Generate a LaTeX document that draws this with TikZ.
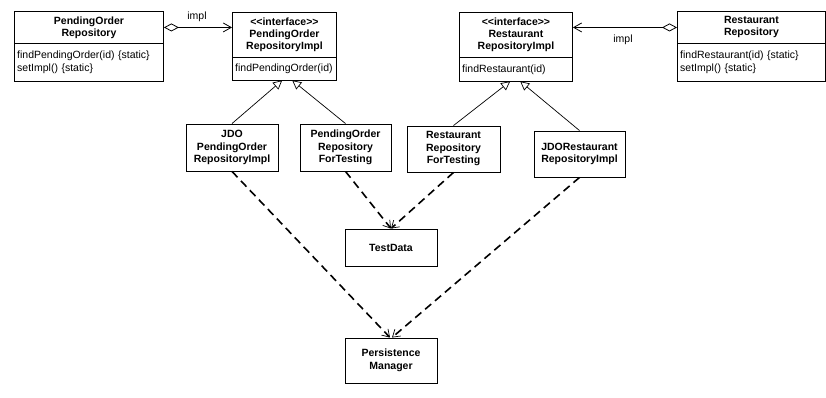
\documentclass[tikz,border=0pt]{standalone}
\usepackage{fontspec}
\setmainfont{Liberation Sans}
\usetikzlibrary{arrows.meta}
\begin{document}
\begin{tikzpicture}[x=1pt,y=-1pt,
  every node/.style={font=\fontsize{10.5}{13}\selectfont, inner sep=0pt},
  ttl/.style={draw, line width=0.9pt, align=center, font=\fontsize{10.5}{12}\selectfont\bfseries, anchor=north west},
  mth/.style={align=left, inner xsep=3pt, anchor=north west},
  side/.style={line width=0.9pt},
  cls/.style={draw, line width=0.9pt, align=center, font=\fontsize{10.5}{12.5}\selectfont\bfseries},
  inh/.style={line width=0.7pt, -{Triangle[open,length=9pt,width=9pt]}},
  dep/.style={line width=1.6pt, dash pattern=on 8pt off 5pt, -{Straight Barb[length=7pt,width=9pt,line width=0.7pt]}},
  agg/.style={line width=0.8pt, {Diamond[open,length=15pt,width=8pt]}-{Straight Barb[length=8pt,width=9pt]}},
]
\useasboundingbox (0,0) rectangle (826,398);
% top class boxes
\node[ttl, minimum width=149pt, minimum height=32pt] (At) at (14,11) {PendingOrder\\Repository};
\node[mth, text width=143pt, minimum height=37pt] (Am) at (At.south west) {findPendingOrder(id) \{static\}\\setImpl() \{static\}};
\node[ttl, minimum width=104pt, minimum height=45pt] (Bt) at (232,12) {{<}{<}interface{>}{>}\\PendingOrder\\RepositoryImpl};
\node[mth, text width=98pt, minimum height=22pt] (Bm) at (Bt.south west) {findPendingOrder(id)};
\node[ttl, minimum width=113pt, minimum height=45pt] (Ct) at (459,12) {{<}{<}interface{>}{>}\\Restaurant\\RepositoryImpl};
\node[mth, text width=107pt, minimum height=23pt] (Cm) at (Ct.south west) {findRestaurant(id)};
\node[ttl, minimum width=148pt, minimum height=32pt] (Dt) at (677,11) {Restaurant\\Repository};
\node[mth, text width=142pt, minimum height=37pt] (Dm) at (Dt.south west) {findRestaurant(id) \{static\}\\setImpl() \{static\}};
\foreach \m in {Am,Bm,Cm,Dm}
  \draw[side] (\m.north west) -- (\m.south west) -- (\m.south east) -- (\m.north east);
% middle boxes
\node[cls, minimum width=92pt, minimum height=47pt] (E) at (232,147.5) {JDO\\PendingOrder\\RepositoryImpl};
\node[cls, minimum width=91pt, minimum height=47pt] (F) at (345.5,147.5) {PendingOrder\\Repository\\ForTesting};
\node[cls, minimum width=93pt, minimum height=46pt] (G) at (453.5,149) {Restaurant\\Repository\\ForTesting};
\node[cls, minimum width=91pt, minimum height=46pt] (H) at (579.5,154) {JDORestaurant\\RepositoryImpl};
\node[cls, minimum width=92pt, minimum height=37pt] (T) at (391,247.5) {TestData};
\node[cls, minimum width=92pt, minimum height=45pt] (P) at (391,360.5) {Persistence\\Manager};
% associations
\draw[agg] (At.east) -- (At.east -| Bt.west);
\node (l1) at (197,17) {impl};
\draw[agg] (Dt.west) -- (Dt.west -| Ct.east);
\node (l2) at (623,40) {impl};
% inheritance
\draw[inh] (E.north) -- ([xshift=-2pt]Bm.south);
\draw[inh] (F.north) -- ([xshift=8pt]Bm.south);
\draw[inh] (G.north) -- ([xshift=-5.5pt]Cm.south);
\draw[inh] (H.north) -- ([xshift=4.5pt]Cm.south);
% dependencies
\draw[dep] (F.south) -- (T.north);
\draw[dep] (G.south) -- (T.north);
\draw[dep] (E.south) -- ([xshift=-1pt]P.north);
\draw[dep] (H.south) -- ([xshift=1pt]P.north);
\end{tikzpicture}
\end{document}
